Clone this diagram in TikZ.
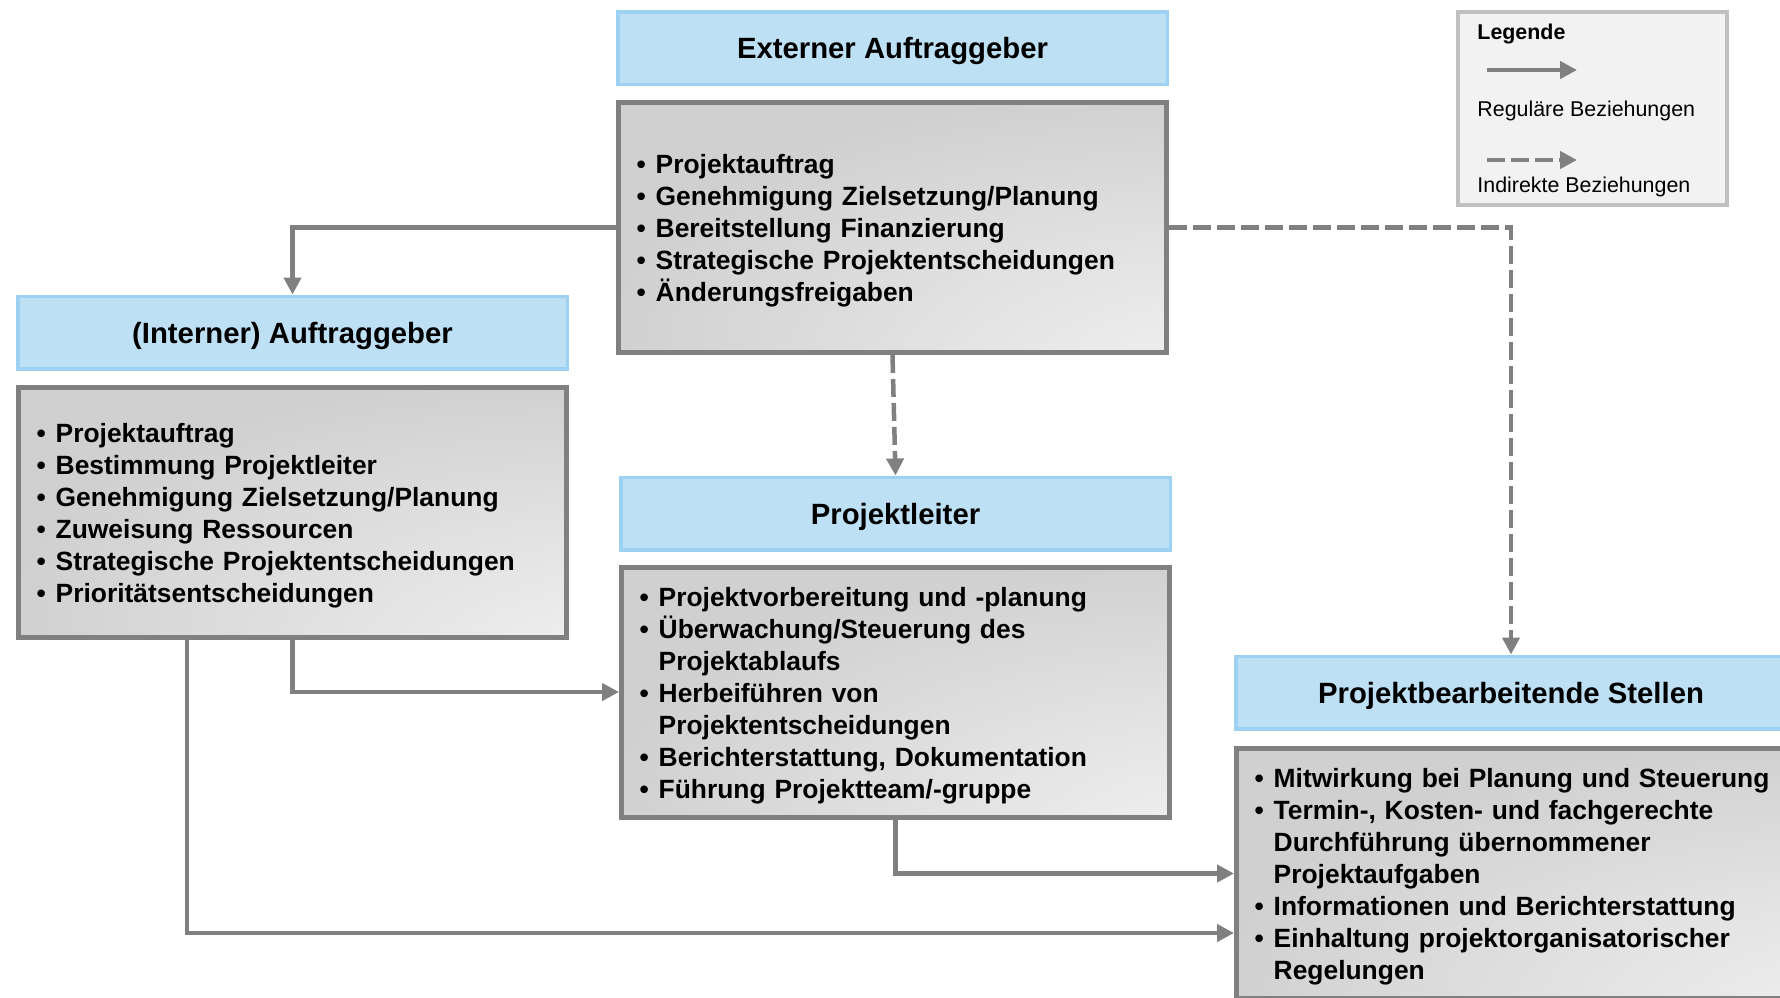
\documentclass[tikz,border=0pt]{standalone}
\usepackage{fontspec}
\setmainfont{Liberation Sans}
\usetikzlibrary{arrows.meta}
\definecolor{hdrfill}{HTML}{BEE0F5}
\definecolor{hdrdraw}{HTML}{9DD1F1}
\definecolor{bodydraw}{HTML}{808080}
\definecolor{conncol}{HTML}{808080}
\definecolor{shd}{HTML}{D0D0D0}
\definecolor{legfill}{HTML}{F2F2F2}
\definecolor{legdraw}{HTML}{C0C0C0}
\pgfdeclareradialshading{bodyshade}{\pgfpoint{42bp}{-42bp}}{color(0bp)=(white); color(18bp)=(white!92!black); color(48bp)=(shd); color(100bp)=(shd)}
\newcommand{\bul}{\makebox[9.6pt][l]{•}}
\newcommand{\cont}{\hspace*{9.6pt}}
\newcommand{\fl}{\rule{0pt}{13pt}}
\begin{document}
\begin{tikzpicture}[x=0.5pt,y=-0.5pt,
  hdr/.style={draw=hdrdraw, line width=1.75pt, fill=hdrfill, minimum width=274.75pt, minimum height=36.25pt, inner sep=0pt, text height=10.5pt, text depth=0pt, font=\fontsize{14.65}{17}\selectfont\bfseries},
  body/.style={draw=bodydraw, line width=2.5pt, shading=bodyshade, text width=256pt, inner xsep=9pt, inner ysep=0pt, minimum height=125pt, align=left, font=\fontsize{13.2}{16}\selectfont\bfseries},
  conn/.style={draw=conncol, line width=2.25pt, -{Triangle[length=8.5pt,width=8.5pt]}},
  dconn/.style={conn, dash pattern=on 9pt off 3pt},
  legtext/.style={anchor=west, inner sep=0pt, font=\fontsize{10.7}{12}\selectfont}
]
\useasboundingbox (0,0) rectangle (1780,997);

% Externer Auftraggeber
\node[hdr] (ext) at (892.5,48) {Externer Auftraggeber};
\node[body] (extb) at (892.5,227.5) {\fl\bul Projektauftrag\\
\bul Genehmigung Zielsetzung/Planung\\
\bul Bereitstellung Finanzierung\\
\bul Strategische Projektentscheidungen\\
\bul Änderungsfreigaben};

% Interner Auftraggeber
\node[hdr] (int) at (292.5,332.5) {(Interner) Auftraggeber};
\node[body] (intb) at (292.5,512.5) {\fl\bul Projektauftrag\\
\bul Bestimmung Projektleiter\\
\bul Genehmigung Zielsetzung/Planung\\
\bul Zuweisung Ressourcen\\
\bul Strategische Projektentscheidungen\\
\bul Prioritätsentscheidungen};

% Projektleiter
\node[hdr] (pl) at (895.5,513.5) {Projektleiter};
\node[body] (plb) at (895.5,692) {\fl\bul Projektvorbereitung und -planung\\
\bul Überwachung/Steuerung des\\
\cont Projektablaufs\\
\bul Herbeiführen von\\
\cont Projektentscheidungen\\
\bul Berichterstattung, Dokumentation\\
\bul Führung Projektteam/-gruppe};

% Projektbearbeitende Stellen
\node[hdr, minimum width=275.25pt] (pb) at (1511,692.5) {Projektbearbeitende Stellen};
\node[body, text width=274pt] (pbb) at (1528.5,873.5) {\fl\bul Mitwirkung bei Planung und Steuerung\\
\bul Termin-, Kosten- und fachgerechte\\
\cont Durchführung übernommener\\
\cont Projektaufgaben\\
\bul Informationen und Berichterstattung\\
\bul Einhaltung projektorganisatorischer\\
\cont Regelungen};

% connectors
\draw[conn] (extb.west) -| (int.north);
\draw[dconn] (extb.east) -| (pb.north);
\draw[dconn] (extb.south) -- (pl.north);
\draw[conn] (intb.south) |- (plb.west);
\draw[conn] ([xshift=-52.75pt]intb.south) |- ([yshift=-29.75pt]pbb.west);
\draw[conn] (plb.south) |- (pbb.west);

% legend
\node[draw=legdraw, line width=2pt, fill=legfill, minimum width=134.5pt, minimum height=96.5pt, inner sep=0pt] (leg) at (1592.5,108.5) {};
\node[legtext, font=\fontsize{10.7}{12}\selectfont\bfseries] (legt) at (1477,34) {Legende};
\coordinate (la1) at (1487,70);
\coordinate (la2) at (1577,70);
\draw[conn] (la1) -- (la2);
\node[legtext] (legr) at (1477,111) {Reguläre Beziehungen};
\coordinate (lb1) at (1487,160);
\coordinate (lb2) at (1577,160);
\draw[dconn] (lb1) -- (lb2);
\node[legtext] (legi) at (1477,187) {Indirekte Beziehungen};
\end{tikzpicture}
\end{document}
